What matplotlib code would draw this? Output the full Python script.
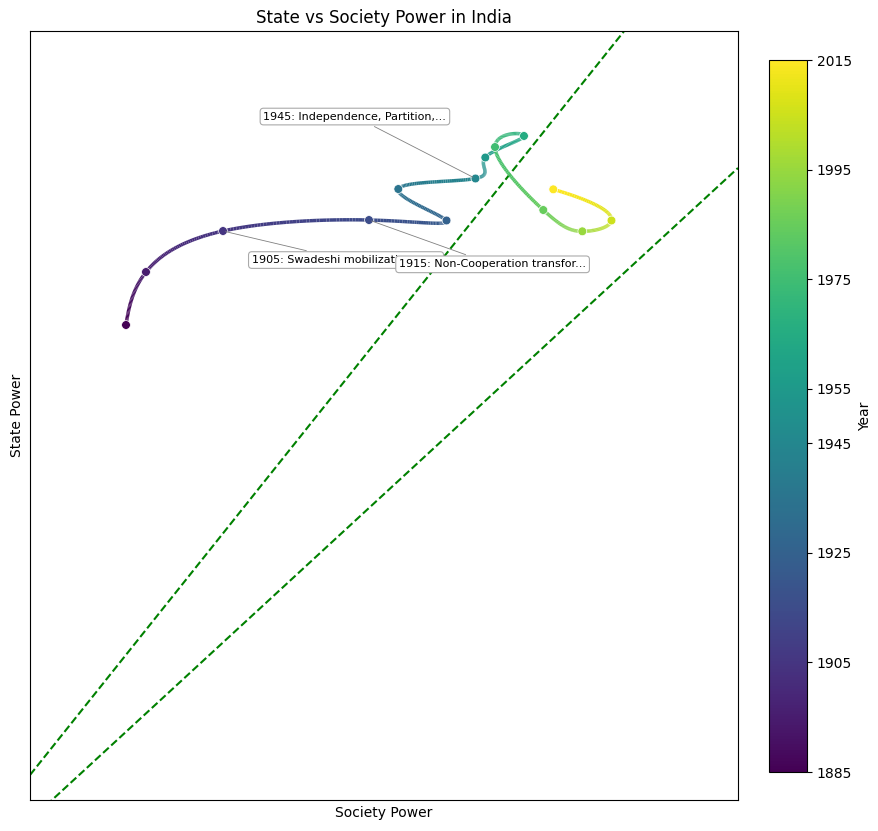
import numpy as np
import matplotlib
matplotlib.use("Agg")
import matplotlib.pyplot as plt
from matplotlib.collections import LineCollection
from matplotlib.colors import Normalize

# ---- data ----
years = [1885, 1895, 1905, 1915, 1925, 1935, 1945, 1955, 1965, 1975, 1985, 1995, 2005, 2015]
society = [1.356, 1.638, 2.726, 4.788, 5.883, 5.202, 6.292, 6.431, 6.977, 6.568, 7.250, 7.801, 8.213, 7.391]
state = [6.177, 6.866, 7.399, 7.542, 7.536, 7.945, 8.082, 8.355, 8.635, 8.491, 7.672, 7.395, 7.536, 7.941]

event_years = [1905, 1915, 1945]
event_labels = ["1905: Swadeshi mobilization an...",
                "1915: Non-Cooperation transfor...",
                "1945: Independence, Partition,..."]

line_slopes = [1.1528, 0.8482]
line_intercepts = [0.325, -0.2635]

cbar_ticks = [1885, 1905, 1925, 1945, 1955, 1975, 1995, 2015]


def notaknot_spline(t, y, tt):
    t = np.asarray(t, float)
    y = np.asarray(y, float)
    n = len(t)
    h = np.diff(t)
    A = np.zeros((n, n))
    b = np.zeros(n)
    for i in range(1, n - 1):
        A[i, i - 1] = h[i - 1]
        A[i, i] = 2 * (h[i - 1] + h[i])
        A[i, i + 1] = h[i]
        b[i] = 6 * ((y[i + 1] - y[i]) / h[i] - (y[i] - y[i - 1]) / h[i - 1])
    A[0, 0] = -1 / h[0]
    A[0, 1] = 1 / h[0] + 1 / h[1]
    A[0, 2] = -1 / h[1]
    A[-1, -3] = -1 / h[-2]
    A[-1, -2] = 1 / h[-2] + 1 / h[-1]
    A[-1, -1] = -1 / h[-1]
    M = np.linalg.solve(A, b)
    idx = np.clip(np.searchsorted(t, tt) - 1, 0, n - 2)
    t0, t1 = t[idx], t[idx + 1]
    hh = t1 - t0
    a = (t1 - tt) / hh
    c = (tt - t0) / hh
    return (a * y[idx] + c * y[idx + 1]
            + ((a ** 3 - a) * M[idx] + (c ** 3 - c) * M[idx + 1]) * hh ** 2 / 6)


fig = plt.figure(figsize=(8.79, 8.31), dpi=100)
ax = fig.add_axes([30 / 879, 31 / 831, 708 / 879, 769 / 831])
cax = fig.add_axes([769 / 879, 59 / 831, 38 / 879, 712 / 831])

norm = Normalize(vmin=min(years), vmax=max(years))
cmap = plt.get_cmap("viridis")

tt = np.linspace(years[0], years[-1], 600)
xs = notaknot_spline(years, society, tt)
ys = notaknot_spline(years, state, tt)
pts = np.array([xs, ys]).T.reshape(-1, 1, 2)
segs = np.concatenate([pts[:-1], pts[1:]], axis=1)
lc = LineCollection(segs, cmap=cmap, norm=norm, linewidth=2.5, zorder=3)
lc.set_array((tt[:-1] + tt[1:]) / 2)
ax.add_collection(lc)

ax.scatter(society, state, c=years, cmap=cmap, norm=norm, s=40,
           edgecolors="white", linewidths=0.5, zorder=4)

ax.set_xlim(0, 10)
ax.set_ylim(0, 10)
xl = np.array([0, 10])
for m, c0 in zip(line_slopes, line_intercepts):
    ax.plot(xl, m * xl + c0, color="green", linestyle="--", linewidth=1.5, zorder=2)
ax.set_xlim(0, 10)
ax.set_ylim(0, 10)

offsets = [(88.6, -20.9), (89.0, -31.9), (-86.8, 44.6)]
for yr, lab, off in zip(event_years, event_labels, offsets):
    i = years.index(yr)
    ax.annotate(lab, xy=(society[i], state[i]), xytext=off, textcoords="offset points",
                ha="center", va="center", fontsize=8, zorder=5,
                bbox=dict(boxstyle="round,pad=0.3", fc="white", ec="#aaaaaa", lw=0.8),
                arrowprops=dict(arrowstyle="-", color="gray", lw=0.6))

ax.set_xticks([])
ax.set_yticks([])
ax.set_xlabel("Society Power")
ax.set_ylabel("State Power")
ax.set_title("State vs Society Power in India")

sm = plt.cm.ScalarMappable(norm=norm, cmap=cmap)
cb = fig.colorbar(sm, cax=cax)
cb.set_ticks(cbar_ticks)
cb.set_label("Year")

fig.savefig("out.png", dpi=100)
